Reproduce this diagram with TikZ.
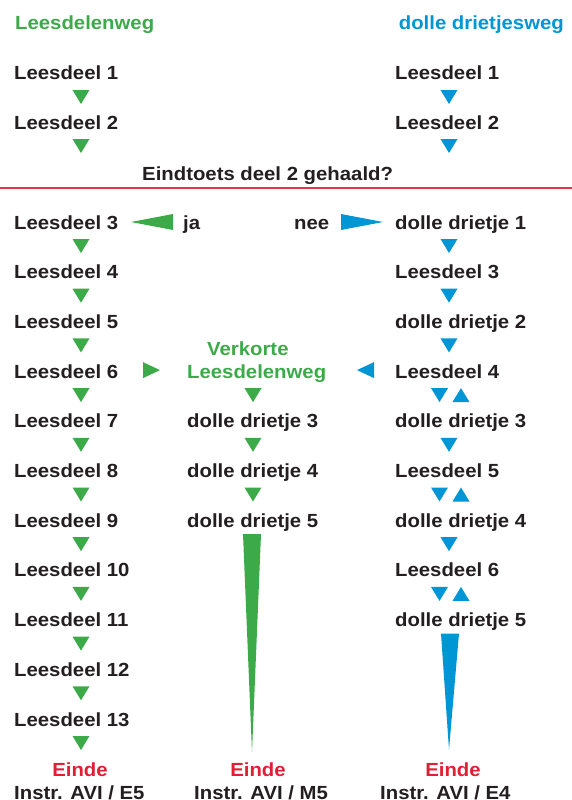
\documentclass[tikz,border=0pt]{standalone}
\usepackage{fontspec}
\setmainfont{Liberation Sans}[FakeStretch=1.07]
\usetikzlibrary{calc}
\definecolor{gr}{RGB}{61,170,73}
\definecolor{bl}{RGB}{0,150,214}
\definecolor{rd}{RGB}{226,30,52}
\definecolor{ink}{RGB}{35,31,32}
\begin{document}
\begin{tikzpicture}[x=1pt,y=-1pt,
  txt/.style={inner sep=0pt, font=\fontsize{19}{19}\selectfont\bfseries, text=ink},
  lt/.style={txt, anchor=base west},
  endl/.style={txt, anchor=base, text=rd},
  gfill/.style={fill=gr},
  bfill/.style={fill=bl},
  dntri/.pic={\fill (-8.5,-7) -- (8.5,-7) -- (0,7) -- cycle;},
  uptri/.pic={\fill (-8.5,7) -- (8.5,7) -- (0,-7) -- cycle;}]
\useasboundingbox (0,0) rectangle (572,800);
% titles
\node[lt, text=gr] (t1) at (15,30) {Leesdelenweg};
\node[txt, anchor=base east, text=bl] (t2) at (564,30) {dolle drietjesweg};
% top part
\node[lt] (a1) at (14,80) {Leesdeel 1};
\node[lt] (a2) at (14,129) {Leesdeel 2};
\node[lt] (b1) at (395,80) {Leesdeel 1};
\node[lt] (b2) at (395,129) {Leesdeel 2};
\node[lt] (q) at (142,180) {Eindtoets deel 2 gehaald?};
\foreach \i in {1,2}{
  \pic[gfill] at ($(a\i.base west)+(67,17)$) {dntri};
  \pic[bfill] at ($(b\i.base west)+(54,17)$) {dntri};
}
\coordinate (rl0) at (0,188);
\coordinate (rl1) at (572,188);
\draw[rd!90, line width=1.4pt] (rl0) -- (rl1);
% left column
\foreach \i in {3,...,13}{
  \node[lt] (a\i) at (14,{229+49.7*(\i-3)}) {Leesdeel \i};
  \pic[gfill] at ($(a\i.base west)+(67,17)$) {dntri};
}
\node[lt] (ja) at (183,229) {ja};
\node[lt] (nee) at (294,229) {nee};
% right column
\foreach \t [count=\k from 0] in {dolle drietje 1,Leesdeel 3,dolle drietje 2,Leesdeel 4,dolle drietje 3,Leesdeel 5,dolle drietje 4,Leesdeel 6,dolle drietje 5}{
  \node[lt] (c\k) at (395,{229+49.7*\k}) {\t};
}
\foreach \k in {0,1,2,4,6}{
  \pic[bfill] at ($(c\k.base west)+(54,17)$) {dntri};
}
\foreach \k in {3,5,7}{
  \pic[bfill] at ($(c\k.base west)+(44.5,17)$) {dntri};
  \pic[bfill] at ($(c\k.base west)+(66,17)$) {uptri};
}
% middle column
\node[lt, text=gr] (m1) at (207,355) {Verkorte};
\node[lt, text=gr] (m2) at (187,378.1) {Leesdelenweg};
\node[lt] (m3) at (187,427.8) {dolle drietje 3};
\node[lt] (m4) at (187,477.5) {dolle drietje 4};
\node[lt] (m5) at (187,527.2) {dolle drietje 5};
\foreach \k in {2,3,4}{
  \pic[gfill] at ($(m\k.base west)+(66,17)$) {dntri};
}
% branch arrows
\fill[gr] ($(ja.base west)+(-10,-15)$) -- ($(ja.base west)+(-10,1)$) -- ($(ja.base west)+(-52,-7)$) -- cycle;
\fill[bl] ($(c0.base west)+(-54,-15)$) -- ($(c0.base west)+(-54,1)$) -- ($(c0.base west)+(-12,-7)$) -- cycle;
\fill[gr] ($(a6.base west)+(129,-16)$) -- ($(a6.base west)+(129,0)$) -- ($(a6.base west)+(146,-8)$) -- cycle;
\fill[bl] ($(c3.base west)+(-21,-16)$) -- ($(c3.base west)+(-21,0)$) -- ($(c3.base west)+(-38,-8)$) -- cycle;
% wedges
\fill[gr] ($(m5.base west)+(56,7)$) -- ($(m5.base west)+(74,7)$) -- ($(m5.base west)+(65,225)$) -- cycle;
\fill[bl] ($(c8.base west)+(46,7)$) -- ($(c8.base west)+(64,7)$) -- ($(c8.base west)+(54,123)$) -- cycle;
% ends
\node[endl] (e1) at (80,776) {Einde};
\node[endl] (e2) at (258,776) {Einde};
\node[endl] (e3) at (453,776) {Einde};
\node[lt] (i1) at (14,799) {Instr. AVI / E5};
\node[lt] (i2) at (194,799) {Instr. AVI / M5};
\node[lt] (i3) at (380,799) {Instr. AVI / E4};
\end{tikzpicture}
\end{document}
